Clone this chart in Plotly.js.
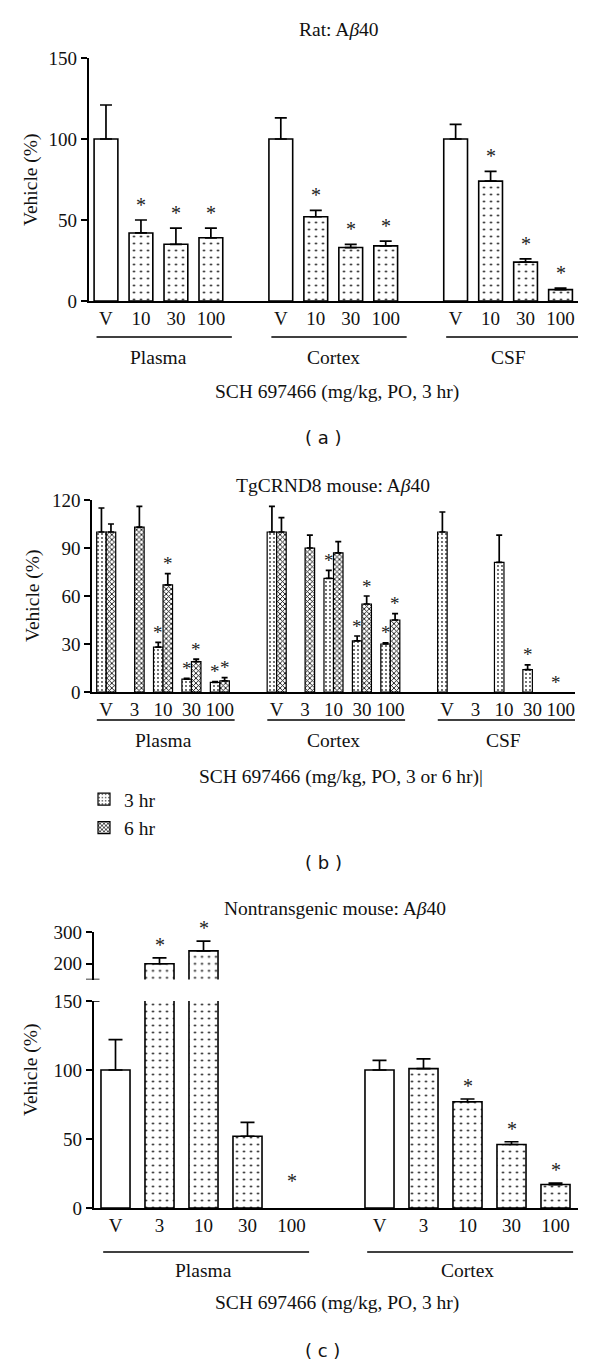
<!DOCTYPE html>
<html><head><meta charset="utf-8">
<script src="https://cdn.plot.ly/plotly-3.0.1.min.js"></script>
<style>html,body{margin:0;padding:0;background:#fff}</style>
</head><body><div id="chart" style="width:600px;height:1363px"></div>
<script>
// ---------- Panel (a): Rat Abeta40 ----------
const ratDoses = ['V', '10', '30', '100'];
const ratTissues = ['Plasma', 'Cortex', 'CSF'];
const ratPlasma = [100, 42, 35, 39];
const ratPlasmaErr = [21, 8, 10, 6];
const ratPlasmaSig = [0, 1, 1, 1];
const ratCortex = [100, 52, 33, 34];
const ratCortexErr = [13, 4, 2, 3];
const ratCortexSig = [0, 1, 1, 1];
const ratCSF = [100, 74, 24, 7];
const ratCSFErr = [9, 6, 2, 1];
const ratCSFSig = [0, 1, 1, 1];

// ---------- Panel (b): TgCRND8 mouse Abeta40 ----------
const tgDoses = ['V', '3', '10', '30', '100'];
const tgTissues = ['Plasma', 'Cortex', 'CSF'];
const tgPlasma3h = [100, null, 28, 8, 6];
const tgPlasma3hErr = [15, null, 3, 0.6, 0.5];
const tgPlasma3hSig = [0, 0, 1, 1, 1];
const tgPlasma6h = [100, 103, 67, 19, 7];
const tgPlasma6hErr = [5, 13, 7, 1.5, 2];
const tgPlasma6hSig = [0, 0, 1, 1, 1];
const tgCortex3h = [100, null, 71, 32, 30];
const tgCortex3hErr = [16, null, 5, 3, 0.7];
const tgCortex3hSig = [0, 0, 1, 1, 1];
const tgCortex6h = [100, 90, 87, 55, 45];
const tgCortex6hErr = [9, 8, 7, 5, 4];
const tgCortex6hSig = [0, 0, 0, 1, 1];
const tgCSF3h = [100, null, 81, 14, null];
const tgCSF3hErr = [12.5, null, 17, 3, null];
const tgCSF3hSig = [0, 0, 0, 1, 1];
const tgCSF6h = [null, null, null, null, null];
const tgCSF6hErr = [null, null, null, null, null];
const tgCSF6hSig = [0, 0, 0, 0, 0];
const tgSeriesNames = ['3 hr', '6 hr'];

// ---------- Panel (c): Nontransgenic mouse Abeta40 ----------
const ntDoses = ['V', '3', '10', '30', '100'];
const ntTissues = ['Plasma', 'Cortex'];
const ntPlasma = [100, 200, 241, 52, null];
const ntPlasmaErr = [22, 19, 31, 10, null];
const ntPlasmaSig = [0, 1, 1, 0, 1];
const ntCortex = [100, 101, 77, 46, 17];
const ntCortexErr = [7, 7, 2, 2, 1];
const ntCortexSig = [0, 0, 1, 1, 1];

// ---------- helpers ----------
const W = 600, H = 1363;
const px = v => v / W;
const py = v => 1 - v / H;
const SERIF = 'Liberation Serif, Times New Roman, serif';
const SANS = 'DejaVu Sans, Verdana, sans-serif';
const slotsOf = (g, n) => Array.from({length: n}, (_, i) => g * (n + 1) + i);

const traces = [];
const annotations = [];
const shapes = [];

function errBar(err, w) {
  return {type: 'data', symmetric: false, array: err, arrayminus: err.map(() => 0),
          color: 'black', thickness: 1.7, width: w, visible: true};
}
function addStars(xs, vals, errs, sig, xref, yrefFn, shift, blqLevel, size) {
  xs.forEach((x, i) => {
    if (!sig[i]) return;
    const y = (vals[i] == null) ? blqLevel : vals[i] + errs[i];
    annotations.push({x: x, y: y, xref: xref, yref: yrefFn(y), text: '*', showarrow: false,
      yanchor: 'middle', yshift: shift, font: {family: SERIF, size: size, color: '#222'}});
  });
}
function groupDecor(xref, nDoses, tissues, lineY, labelY, lo, hi) {
  tissues.forEach((t, g) => {
    const s = slotsOf(g, nDoses);
    shapes.push({type: 'line', xref: xref, yref: 'paper', x0: s[0] + lo, x1: s[nDoses - 1] + hi,
      y0: py(lineY), y1: py(lineY), line: {color: 'black', width: 1.6}});
    annotations.push({x: (s[0] + s[nDoses - 1]) / 2, y: py(labelY), xref: xref, yref: 'paper',
      text: t, showarrow: false, yanchor: 'middle', font: {family: SERIF, size: 19.5, color: '#111'}});
  });
}
function textAt(x, y, text, font, extra) {
  annotations.push(Object.assign({x: px(x), y: py(y), xref: 'paper', yref: 'paper', text: text,
    showarrow: false, xanchor: 'center', yanchor: 'middle', font: font}, extra || {}));
}

// ---------- Panel (a) traces ----------
const dotA = {shape: ratDoses.map(d => d === 'V' ? '' : '.'), size: 7, solidity: 0.07,
              fgcolor: 'black', bgcolor: 'white'};
[[ratPlasma, ratPlasmaErr, ratPlasmaSig], [ratCortex, ratCortexErr, ratCortexSig],
 [ratCSF, ratCSFErr, ratCSFSig]].forEach((d, g) => {
  const xs = slotsOf(g, ratDoses.length);
  traces.push({type: 'bar', x: xs, y: d[0], xaxis: 'x', yaxis: 'y', width: 0.68,
    marker: {color: 'white', line: {color: 'black', width: 1.6}, pattern: dotA},
    error_y: errBar(d[1], 6), showlegend: false, hoverinfo: 'skip'});
  addStars(xs, d[0], d[1], d[2], 'x', () => 'y', 15, 0, 20);
});

// ---------- Panel (b) traces ----------
const BW = 0.335;
const pat3h = {shape: '.', size: 4, solidity: 0.16, fgcolor: '#333', bgcolor: 'white'};
const pat6h = {shape: 'x', size: 3.5, solidity: 0.45, fgcolor: '#111', bgcolor: 'white'};
[[tgPlasma3h, tgPlasma3hErr, tgPlasma3hSig, tgPlasma6h, tgPlasma6hErr, tgPlasma6hSig],
 [tgCortex3h, tgCortex3hErr, tgCortex3hSig, tgCortex6h, tgCortex6hErr, tgCortex6hSig],
 [tgCSF3h, tgCSF3hErr, tgCSF3hSig, tgCSF6h, tgCSF6hErr, tgCSF6hSig]].forEach((d, g) => {
  const xs = slotsOf(g, tgDoses.length);
  traces.push({type: 'bar', name: tgSeriesNames[0], legendgroup: 'h3', showlegend: g === 0,
    x: xs, y: d[0], xaxis: 'x2', yaxis: 'y2', width: BW, offset: -BW,
    marker: {color: 'white', line: {color: 'black', width: 1.2}, pattern: pat3h},
    error_y: errBar(d[1].map(v => v == null ? 0 : v), 3), hoverinfo: 'skip'});
  traces.push({type: 'bar', name: tgSeriesNames[1], legendgroup: 'h6', showlegend: g === 0,
    x: xs, y: d[3], xaxis: 'x2', yaxis: 'y2', width: BW, offset: 0,
    marker: {color: 'white', line: {color: 'black', width: 1.2}, pattern: pat6h},
    error_y: errBar(d[4].map(v => v == null ? 0 : v), 3), hoverinfo: 'skip'});
  addStars(xs.map(x => x - BW / 2), d[0], d[1], d[2], 'x2', () => 'y2', 10, 0, 19);
  addStars(xs.map(x => x + BW / 2), d[3], d[4], d[5], 'x2', () => 'y2', 10, 0, 19);
});

// ---------- Panel (c) traces (broken axis: y3 lower, y4 upper) ----------
const dotC = {shape: ntDoses.map(d => d === 'V' ? '' : '.'), size: 7, solidity: 0.07,
              fgcolor: 'black', bgcolor: 'white'};
[[ntPlasma, ntPlasmaErr, ntPlasmaSig], [ntCortex, ntCortexErr, ntCortexSig]].forEach((d, g) => {
  const xs = slotsOf(g, ntDoses.length);
  ['y3', 'y4'].forEach(ya => {
    traces.push({type: 'bar', x: xs, y: d[0], xaxis: 'x3', yaxis: ya, width: 0.66,
      marker: {color: 'white', line: {color: 'black', width: 1.6}, pattern: dotC},
      error_y: errBar(d[1].map(v => v == null ? 0 : v), 7), showlegend: false, hoverinfo: 'skip'});
  });
  addStars(xs, d[0], d[1], d[2], 'x3', y => (y > 150 ? 'y4' : 'y3'), 13, 10, 20);
});

// ---------- decorations ----------
groupDecor('x', ratDoses.length, ratTissues, 337, 357, -0.27, 0.6);
groupDecor('x2', tgDoses.length, tgTissues, 720, 740, -0.33, 0.52);
groupDecor('x3', ntDoses.length, ntTissues, 1252, 1270, -0.28, 0.4);

// break caps of panel (c)
shapes.push({type: 'line', xref: 'paper', yref: 'y4', x0: px(86), x1: px(99.5), y0: 150, y1: 150,
  line: {color: 'black', width: 1.6}});
shapes.push({type: 'line', xref: 'paper', yref: 'y3', x0: px(86), x1: px(99.5), y0: 150, y1: 150,
  line: {color: 'black', width: 1.6}});

const tfont = {family: SERIF, size: 19.5, color: '#111'};
const pfont = {family: SANS, size: 18, color: '#111'};
textAt(339, 30, 'Rat: A<i>β</i>40', tfont);
textAt(337, 392, 'SCH 697466 (mg/kg, PO, 3 hr)', tfont);
textAt(323, 437, '( a )', pfont);
textAt(333, 485, 'TgCRND8 mouse: A<i>β</i>40', tfont);
textAt(341, 777, 'SCH 697466 (mg/kg, PO, 3 or 6 hr)|', tfont);
textAt(323, 862, '( b )', pfont);
textAt(335, 908, 'Nontransgenic mouse: A<i>β</i>40', tfont);
textAt(337, 1303, 'SCH 697466 (mg/kg, PO, 3 hr)', tfont);
textAt(322, 1350, '( c )', pfont);
textAt(31, 180, 'Vehicle (%)', tfont, {textangle: -90});
textAt(33, 596, 'Vehicle (%)', tfont, {textangle: -90});
textAt(31, 1070, 'Vehicle (%)', tfont, {textangle: -90});

// ---------- axes ----------
const tickFont = {family: SERIF, size: 19, color: '#111'};
function xAx(dom, n, groups, doses, anchor) {
  const vals = [], txt = [];
  for (let g = 0; g < groups; g++) slotsOf(g, n).forEach((s, i) => { vals.push(s); txt.push(doses[i]); });
  return {domain: dom, range: [-0.5, groups * (n + 1) - 1.5], anchor: anchor, showline: true,
    linecolor: 'black', linewidth: 1.6, ticks: '', tickvals: vals, ticktext: txt, tickfont: tickFont,
    showgrid: false, zeroline: false, fixedrange: true};
}
function yAx(dom, range, tickvals, anchor) {
  return {domain: dom, range: range, anchor: anchor, tickvals: tickvals, ticks: 'outside', ticklen: 6,
    tickwidth: 1.6, tickcolor: 'black', showline: true, linecolor: 'black', linewidth: 1.6,
    tickfont: tickFont, showgrid: false, zeroline: false, fixedrange: true};
}

const layout = {
  width: W, height: H, margin: {l: 0, r: 0, t: 0, b: 0},
  paper_bgcolor: 'white', plot_bgcolor: 'rgba(0,0,0,0)', barmode: 'overlay',
  xaxis: xAx([px(88.5), px(578)], ratDoses.length, ratTissues.length, ratDoses, 'y'),
  yaxis: yAx([py(301), py(58)], [0, 150], [0, 50, 100, 150], 'x'),
  xaxis2: xAx([px(92), px(575)], tgDoses.length, tgTissues.length, tgDoses, 'y2'),
  yaxis2: yAx([py(692), py(500)], [0, 120], [0, 30, 60, 90, 120], 'x2'),
  xaxis3: xAx([px(93.5), px(577.5)], ntDoses.length, ntTissues.length, ntDoses, 'y3'),
  yaxis3: yAx([py(1208), py(1001)], [0, 150], [0, 50, 100, 150], 'x3'),
  yaxis4: yAx([py(979.5), py(932.3)], [150, 300], [200, 300], 'x3'),
  showlegend: true,
  legend: {x: px(84), y: py(780), xanchor: 'left', yanchor: 'top', bgcolor: 'rgba(0,0,0,0)',
    font: {family: SERIF, size: 19.5, color: '#111'}, tracegroupgap: 0, traceorder: 'normal'},
  annotations: annotations, shapes: shapes
};

Plotly.newPlot('chart', traces, layout, {displayModeBar: false, staticPlot: true});
</script></body></html>
